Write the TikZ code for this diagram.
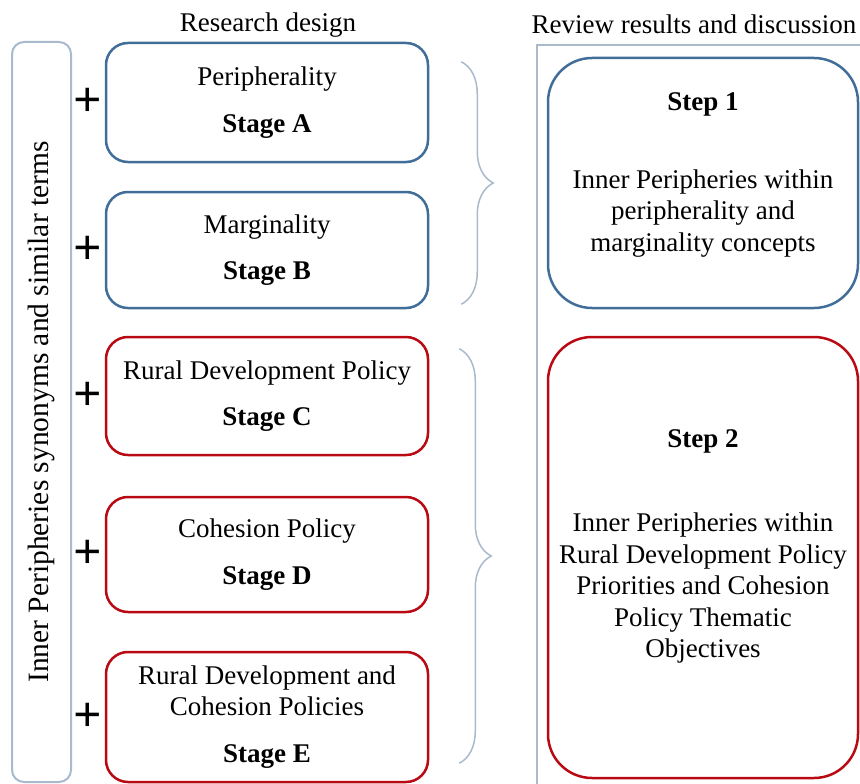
\documentclass[tikz,border=0pt]{standalone}
\usepackage{fontspec}
\setmainfont{Liberation Serif}
\usetikzlibrary{decorations.pathreplacing,calc}

\definecolor{stageblue}{RGB}{65,110,152}
\definecolor{stagered}{RGB}{185,10,20}
\definecolor{framegray}{RGB}{168,186,204}

\tikzset{
  base/.style={font=\fontsize{27}{31.5}\selectfont, align=center, inner sep=0pt},
  stagebox/.style={base, draw=#1, line width=2.5pt, rounded corners=22pt,
    minimum width=322pt},
  stepbox/.style={draw=#1, line width=2.5pt, rounded corners=44pt,
    minimum width=310pt, inner sep=0pt},
  plussign/.style={font=\fontsize{50}{50}\selectfont\bfseries, inner sep=0pt},
  curly/.style={draw=framegray, line width=1.5pt, decorate,
    decoration={brace, amplitude=32pt, aspect=0.5}}
}

\begin{document}
\begin{tikzpicture}[x=1pt, y=-1pt]
  \useasboundingbox (0,0) rectangle (860,784);

  % column titles
  \node[base] (ttlleft) at (268,25) {Research design};
  \node[base] (ttlright) at (694,24) {Review results and discussion};

  % search terms box
  \node[base, draw=framegray, line width=2pt, rounded corners=12pt, rotate=90,
    minimum width=740pt, minimum height=59pt,
    font=\fontsize{29.5}{34}\selectfont] (terms) at (41.5,412)
    {Inner Peripheries synonyms and similar terms};

  % stages
  \node[stagebox=stageblue, minimum height=119pt] (stA) at (267,102.5)
    {Peripherality\\[15pt]\textbf{Stage A}};
  \node[stagebox=stageblue, minimum height=116pt] (stB) at (267,250)
    {Marginality\\[15pt]\textbf{Stage B}};
  \node[stagebox=stagered, minimum height=118pt] (stC) at (267,396)
    {Rural Development Policy\\[15pt]\textbf{Stage C}};
  \node[stagebox=stagered, minimum height=115pt] (stD) at (267,554.5)
    {Cohesion Policy\\[15pt]\textbf{Stage D}};
  \node[stagebox=stagered, minimum height=130pt] (stE) at (267,717)
    {Rural Development and\\Cohesion Policies\\[15pt]\textbf{Stage E}};

  \foreach \s in {A,B,C,D,E}
    \node[plussign] (pl\s) at (88,0 |- st\s) {+};

  % braces
  \draw[curly] ($(stA.north east)+(32,20)$) -- ($(stB.south east)+(32,-5)$);
  \draw[curly] ($(stC.north east)+(30,13)$) -- ($(stE.south east)+(30,-20)$);

  % results frame
  \draw[framegray, line width=2pt] (537,790) |- (866,45);

  % steps
  \node[stepbox=stageblue, minimum height=250pt] (step1) at (703,183) {};
  \node[base] (step1txt) at ([yshift=8pt]step1.center)
    {\textbf{Step 1}\\[46pt]Inner Peripheries within\\peripherality and\\marginality concepts};
  \node[stepbox=stagered, minimum height=441pt] (step2) at (703,557.5) {};
  \node[base] (step2txt) at ([yshift=11pt]step2.center)
    {\textbf{Step 2}\\[53pt]Inner Peripheries within\\Rural Development Policy\\Priorities and Cohesion\\Policy Thematic\\Objectives};
\end{tikzpicture}
\end{document}
